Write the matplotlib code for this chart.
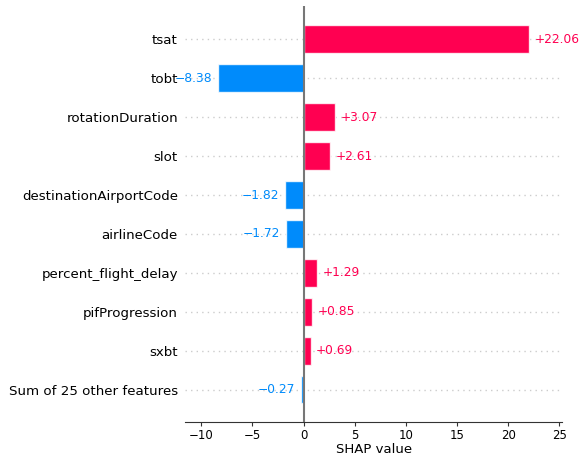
import matplotlib
matplotlib.use('Agg')
import matplotlib.pyplot as plt
import numpy as np

features=['tsat','tobt','rotationDuration','slot','destinationAirportCode','airlineCode',
          'percent_flight_delay','pifProgression','sxbt','Sum of 25 other features']
shap_vals=[22.06,-8.38,3.07,2.61,-1.82,-1.72,1.29,0.85,0.69,-0.27]
POS='#ff0051'; NEG='#008bfb'

fig=plt.figure(figsize=(5.87,4.61),dpi=100)
ax=fig.add_axes([0.315,0.085,0.643,0.902])
y=np.arange(len(features))
cols=[POS if v>0 else NEG for v in shap_vals]
for yi in y: ax.axhline(yi,color='#cccccc',lw=1,dashes=(1,3),zorder=-1)
ax.barh(y,shap_vals,0.7,color=cols,edgecolor=(1,1,1,0.8),lw=1,zorder=2)
ax.axvline(0,color='#777777',lw=1.5,zorder=3)
for yi,v,c in zip(y,shap_vals,cols):   # value labels just past the bar end
    s=('+%.2f'%v) if v>0 else ('%.2f'%v).replace('-','\u2212')
    ax.annotate(s,(v,yi),xytext=(4 if v>0 else -4,0),textcoords='offset points',ha='left' if v>0 else 'right',va='center',color=c,fontsize=8.8)
ax.set_yticks(y); ax.set_yticklabels(features,fontsize=9.6)
ax.tick_params('y',length=0,pad=5)
ax.tick_params('x',labelsize=8.5,color='#333333',length=3,pad=2)
ax.set_ylim(9.82,-0.85); ax.set_xlim(-11.6,25.3)
ax.set_xlabel('SHAP value',fontsize=9.5,labelpad=1)
for s in ['top','right','left']: ax.spines[s].set_visible(False)
ax.spines['bottom'].set_color('#333333')
fig.savefig('out.png',dpi=100)
